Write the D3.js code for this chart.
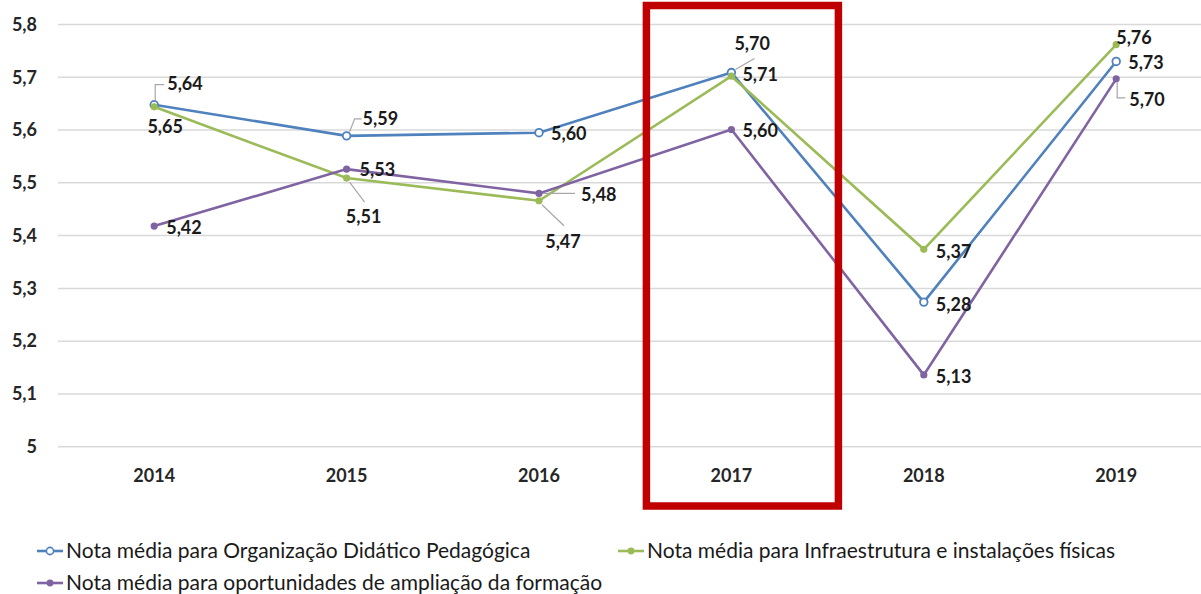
<!DOCTYPE html>
<html>
<head>
<meta charset="utf-8">
<script src="https://cdn.jsdelivr.net/npm/d3@7"></script>
<style>
  body { margin: 0; background: #fff; }
  svg { display: block; font-family: Lato, "Open Sans", sans-serif; }
  .grid line { stroke: #d9d9d9; stroke-width: 1.5; }
  .tick-label { font-size: 18px; font-weight: bold; fill: #262626; }
  .data-label { font-size: 18px; font-weight: bold; fill: #1a1a1a; }
  .legend text { font-size: 21px; fill: #1a1a1a; }
  .leader { stroke: #a6a6a6; stroke-width: 1.2; fill: none; }
</style>
</head>
<body>
<svg id="chart"></svg>
<script>
// chart data
const years = ["2014", "2015", "2016", "2017", "2018", "2019"];
const yTicks = [5, 5.1, 5.2, 5.3, 5.4, 5.5, 5.6, 5.7, 5.8];

const seriesNames = [
  "Nota média para Organização Didático Pedagógica",
  "Nota média para Infraestrutura e instalações físicas",
  "Nota média para oportunidades de ampliação da formação"
];
const organizacao   = [5.648, 5.589, 5.595, 5.709, 5.274, 5.730];
const infraestrutura = [5.644, 5.509, 5.466, 5.702, 5.374, 5.762];
const oportunidades = [5.418, 5.526, 5.480, 5.601, 5.136, 5.697];

// labels as printed in the original
const organizacaoLabels    = ["5,64", "5,59", "5,60", "5,70", "5,28", "5,73"];
const infraestruturaLabels = ["5,65", "5,51", "5,47", "5,71", "5,37", "5,76"];
const oportunidadesLabels  = ["5,42", "5,53", "5,48", "5,60", "5,13", "5,70"];

const width = 1201, height = 594;
const margin = { top: 24.5, left: 58, bottom: 147.3 };
const plotWidth = 6 * 192.4;

const svg = d3.select("#chart").attr("width", width).attr("height", height);

const x = d3.scaleBand().domain(years).range([margin.left, margin.left + plotWidth]);
const y = d3.scaleLinear().domain([5, 5.8]).range([height - margin.bottom, margin.top]);
const cx = d => x(d) + x.bandwidth() / 2;

// gridlines
svg.append("g").attr("class", "grid")
  .selectAll("line").data(yTicks).join("line")
  .attr("x1", margin.left).attr("x2", margin.left + plotWidth)
  .attr("y1", d => y(d)).attr("y2", d => y(d));

// y labels
svg.append("g").selectAll("text").data(yTicks).join("text")
  .attr("class", "tick-label")
  .attr("x", 37).attr("y", d => y(d)).attr("dy", "0.35em")
  .attr("text-anchor", "end")
  .text(d => String(+d.toFixed(1)).replace(".", ","));

// x labels
svg.append("g").selectAll("text").data(years).join("text")
  .attr("class", "tick-label")
  .attr("x", d => cx(d)).attr("y", 476).attr("dy", "0.35em")
  .attr("text-anchor", "middle")
  .text(d => d);

const series = [
  { name: seriesNames[0], values: organizacao, labels: organizacaoLabels, color: "#4f81bd", open: true,
    // label offsets relative to the point: [dx, dy, anchor, leader]
    offsets: [[13, -21, "start", [[1, -4], [1, -20], [10, -20]]],
              [16, -17, "start", [[3, -4], [8, -17], [15, -17]]],
              [12, 1, "start", null],
              [3, -29, "start", [[4, -3], [23, -14]]],
              [12, 3, "start", null],
              [12, 1, "start", null]] },
  { name: seriesNames[1], values: infraestrutura, labels: infraestruturaLabels, color: "#9bbb59", open: false,
    offsets: [[11, 20, "middle", null],
              [17, 39, "middle", [[3, 4], [18, 24]]],
              [24, 41, "middle", [[3, 4], [25, 25]]],
              [11, -2, "start", null],
              [12, 2, "start", null],
              [0, -7, "start", null]] },
  { name: seriesNames[2], values: oportunidades, labels: oportunidadesLabels, color: "#8064a2", open: false,
    offsets: [[12, 2, "start", null],
              [13, 1, "start", null],
              [42, 1, "start", [[4, 0], [36, 0]]],
              [11, 1, "start", null],
              [12, 2, "start", null],
              [13, 21, "start", [[1, 4], [1, 19], [9, 19]]]] }
];

const line = d3.line().x((d, i) => cx(years[i])).y(d => y(d));

series.forEach(s => {
  const g = svg.append("g");
  g.append("path").datum(s.values)
    .attr("d", line)
    .attr("fill", "none").attr("stroke", s.color).attr("stroke-width", 2.6);
  g.selectAll("circle").data(s.values).join("circle")
    .attr("cx", (d, i) => cx(years[i])).attr("cy", d => y(d))
    .attr("r", s.open ? 3.8 : 3.6)
    .attr("fill", s.open ? "#fff" : s.color)
    .attr("stroke", s.color).attr("stroke-width", s.open ? 1.8 : 0);
});

// leaders + data labels
series.forEach(s => {
  s.values.forEach((v, i) => {
    const px = cx(years[i]), py = y(v);
    const [dx, dy, anchor, leader] = s.offsets[i];
    if (leader) {
      svg.append("path").attr("class", "leader")
        .attr("d", d3.line()(leader.map(p => [px + p[0], py + p[1]])));
    }
    svg.append("text").attr("class", "data-label")
      .attr("x", px + dx).attr("y", py + dy).attr("dy", "0.35em")
      .attr("text-anchor", anchor)
      .text(s.labels[i]);
  });
});

// highlight box round 2017
const bx = cx("2017");
svg.append("rect")
  .attr("x", bx - 85).attr("y", 5.5)
  .attr("width", 192).attr("height", 500.5)
  .attr("fill", "none").attr("stroke", "#c00000").attr("stroke-width", 7.5);

// legend
const legendItems = [
  { s: series[0], x: 37, y: 551 },
  { s: series[1], x: 618, y: 551 },
  { s: series[2], x: 37, y: 583 }
];
const legend = svg.append("g").attr("class", "legend");
legendItems.forEach(it => {
  const g = legend.append("g").attr("transform", `translate(${it.x},${it.y})`);
  g.append("line").attr("x1", 0).attr("x2", 26).attr("y1", 0).attr("y2", 0)
    .attr("stroke", it.s.color).attr("stroke-width", 2.6);
  g.append("circle").attr("cx", 13).attr("cy", 0)
    .attr("r", it.s.open ? 3.6 : 3.4)
    .attr("fill", it.s.open ? "#fff" : it.s.color)
    .attr("stroke", it.s.color).attr("stroke-width", it.s.open ? 1.6 : 0);
  g.append("text").attr("x", 29).attr("y", 0).attr("dy", "0.35em").text(it.s.name);
});
</script>
</body>
</html>
